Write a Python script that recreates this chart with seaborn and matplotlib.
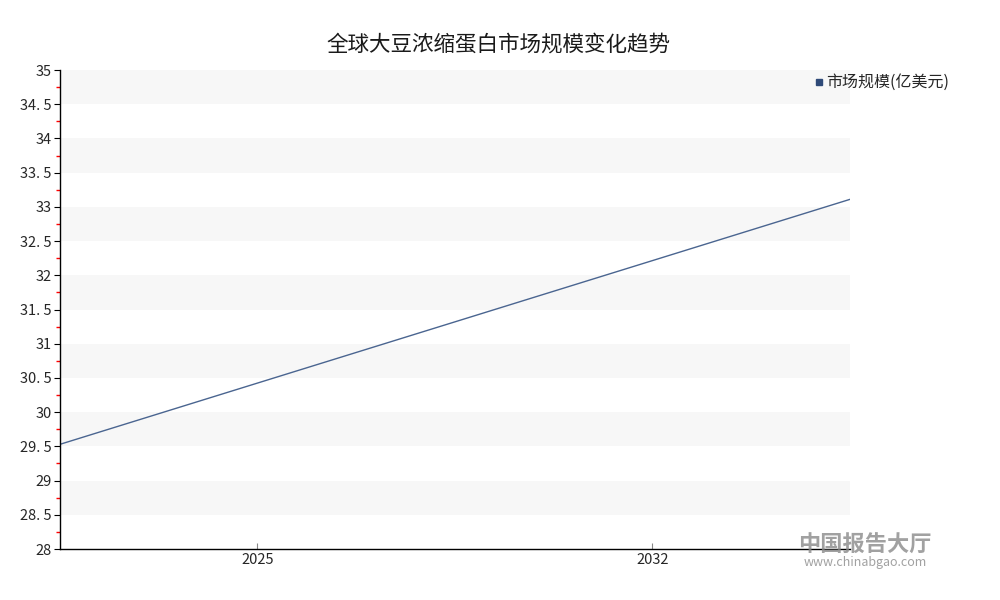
import pandas as pd
import seaborn as sns
import matplotlib.pyplot as plt
from matplotlib.ticker import MultipleLocator, FixedLocator, FuncFormatter
from matplotlib.lines import Line2D

# data (line runs edge to edge)
years = [2021.5, 2035.5]
market_size = [29.53, 33.11]
x_ticks = [2025, 2032]
series_name = '市场规模(亿美元)'
title = '全球大豆浓缩蛋白市场规模变化趋势'

df = pd.DataFrame({'year': years, 'size': market_size})

sns.set_style('white')
plt.rcParams['font.family'] = ['Noto Sans CJK SC', 'DejaVu Sans']

fig = plt.figure(figsize=(10, 6), dpi=100)
ax = fig.add_axes([0.06, 0.085, 0.79, 0.7983])

ax.set_ylim(28, 35)
ax.set_xlim(min(years), max(years))

# alternating grey bands
for lo in [28.5, 29.5, 30.5, 31.5, 32.5, 33.5, 34.5]:
    ax.axhspan(lo, lo + 0.5, color='#f7f7f7', zorder=0, lw=0)

sns.lineplot(data=df, x='year', y='size', ax=ax, color='#4a6590', lw=1, legend=False)

ax.yaxis.set_major_locator(MultipleLocator(0.5))
ax.yaxis.set_minor_locator(FixedLocator([v / 4 for v in range(113, 140, 2)]))
ax.yaxis.set_major_formatter(FuncFormatter(lambda v, p: f'{v:g}'.replace('.', '. ')))
ax.tick_params(axis='y', which='major', direction='out', length=4, color='black',
               labelsize=10.5, pad=2, left=True)
ax.tick_params(axis='y', which='minor', direction='out', length=3, width=1,
               color='#ff0000', left=True)

ax.set_xticks(x_ticks)
ax.set_xticklabels([str(x) for x in x_ticks])
ax.tick_params(axis='x', direction='in', length=4, color='#888888', labelsize=10.5,
               pad=3, bottom=True)

for s in ['top', 'right']:
    ax.spines[s].set_visible(False)
for s in ['left', 'bottom']:
    ax.spines[s].set_color('black')
    ax.spines[s].set_linewidth(1)

ax.set_xlabel('')
ax.set_ylabel('')

fig.text(0.498, 0.925, title, ha='center', va='center', fontsize=15.5, color='#1a1a1a')

handle = Line2D([], [], marker='s', ls='', color='#2f4a78', markersize=4)
fig.legend([handle], [series_name], loc='center right', bbox_to_anchor=(0.957, 0.862),
           frameon=False, fontsize=11.5, handletextpad=0.15, handlelength=0.6,
           borderpad=0)

# watermark
fig.text(0.865, 0.092, '中国报告大厅', fontsize=16, color='#8a8a8a', alpha=0.8,
         ha='center', va='center', fontweight='bold')
fig.text(0.865, 0.062, 'www.chinabgao.com', fontsize=9, color='#8a8a8a', alpha=0.8,
         ha='center', va='center')

plt.savefig('out.png', dpi=100)
